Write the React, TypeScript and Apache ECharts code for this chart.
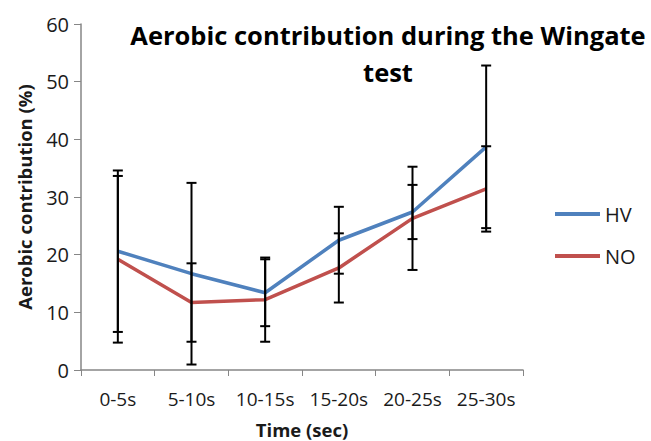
import React, { useEffect, useRef } from "react";
import * as echarts from "echarts";

const categories = ["0-5s", "5-10s", "10-15s", "15-20s", "20-25s", "25-30s"];
const hvMean = [20.6, 16.7, 13.4, 22.5, 27.4, 38.7];
const hvSd = [14.0, 15.75, 5.8, 5.8, 4.7, 14.1];
const noMean = [19.2, 11.7, 12.2, 17.7, 26.3, 31.4];
const noSd = [14.45, 6.8, 7.3, 6.0, 8.95, 7.4];
const titleText = "Aerobic contribution during the Wingate\ntest";

const FONT = "'Open Sans', sans-serif";

export default function App() {
  const ref = useRef<HTMLDivElement>(null);
  useEffect(() => {
    if (!ref.current) return;
    const chart = echarts.init(ref.current, undefined, { renderer: "svg", width: 651, height: 441 });
    const errData: number[][] = [];
    hvMean.forEach((m, i) => errData.push([i, m - hvSd[i], m + hvSd[i]]));
    noMean.forEach((m, i) => errData.push([i, m - noSd[i], m + noSd[i]]));
    const axisColor = "#868686";
    const textColor = "#1a1a1a";
    chart.setOption({
      animation: false,
      backgroundColor: "#ffffff",
      textStyle: { fontFamily: FONT },
      grid: { left: 81, right: 128, top: 24, bottom: 71, containLabel: false, outerBoundsMode: "none" },
      graphic: [
        {
          type: "text",
          x: 388,
          y: 16,
          style: {
            text: titleText,
            textAlign: "center",
            textVerticalAlign: "top",
            fontFamily: FONT,
            fontWeight: "bold",
            fontSize: 25.5,
            lineHeight: 37,
            fill: "#000",
          },
        },
      ],
      legend: {
        orient: "vertical",
        left: 555,
        top: 204,
        padding: 0,
        itemWidth: 45,
        itemHeight: 4,
        itemGap: 22,
        icon: "rect",
        textStyle: { fontFamily: FONT, fontSize: 20, color: textColor, lineHeight: 20 },
        data: ["HV", "NO"],
      },
      xAxis: {
        type: "category",
        data: categories,
        boundaryGap: true,
        name: "Time (sec)",
        nameLocation: "middle",
        nameGap: 49,
        nameTextStyle: { fontFamily: FONT, fontWeight: "bold", fontSize: 18.5, color: textColor, lineHeight: 20 },
        axisLine: { lineStyle: { color: axisColor, width: 1.5 } },
        axisTick: { show: true, alignWithLabel: false, interval: 0, length: 6, lineStyle: { color: axisColor } },
        axisLabel: { fontFamily: FONT, fontSize: 19, color: textColor, margin: 19, interval: 0 },
        splitLine: { show: false },
      },
      yAxis: {
        type: "value",
        min: 0,
        max: 60,
        interval: 10,
        name: "Aerobic contribution (%)",
        nameLocation: "middle",
        nameGap: 47,
        nameTextStyle: { fontFamily: FONT, fontWeight: "bold", fontSize: 18.5, color: textColor },
        axisLine: { show: true, lineStyle: { color: axisColor, width: 1.5 } },
        axisTick: { show: true, length: 7, lineStyle: { color: axisColor } },
        axisLabel: { fontFamily: FONT, fontSize: 20, color: textColor, margin: 12 },
        splitLine: { show: false },
      },
      series: [
        {
          name: "HV",
          type: "line",
          data: hvMean,
          symbol: "none",
          lineStyle: { color: "#4F81BD", width: 3.5 },
          itemStyle: { color: "#4F81BD" },
          z: 2,
        },
        {
          name: "NO",
          type: "line",
          data: noMean,
          symbol: "none",
          lineStyle: { color: "#C0504D", width: 3.5 },
          itemStyle: { color: "#C0504D" },
          z: 2,
        },
        {
          name: "error",
          type: "custom",
          z: 5,
          data: errData,
          renderItem: (params: any, api: any) => {
            const x = api.value(0);
            const lo = api.coord([x, api.value(1)]);
            const hi = api.coord([x, api.value(2)]);
            const hw = 5;
            const style = { stroke: "#000", lineWidth: 2 };
            return {
              type: "group",
              children: [
                { type: "line", shape: { x1: lo[0], y1: lo[1], x2: hi[0], y2: hi[1] }, style },
                { type: "line", shape: { x1: hi[0] - hw, y1: hi[1], x2: hi[0] + hw, y2: hi[1] }, style },
                { type: "line", shape: { x1: lo[0] - hw, y1: lo[1], x2: lo[0] + hw, y2: lo[1] }, style },
              ],
            };
          },
        },
      ],
    });
    return () => chart.dispose();
  }, []);
  return <div ref={ref} style={{ width: 651, height: 441, position: "fixed", left: 0, top: 0 }} />;
}
